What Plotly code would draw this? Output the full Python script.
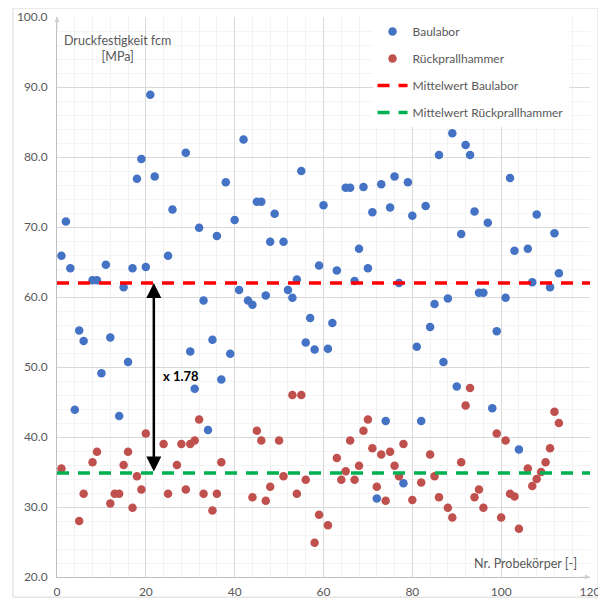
import plotly.graph_objects as go

# ---- data ----
baulabor_x = [1,2,3,4,5,6,8,9,10,11,12,14,15,16,17,18,19,20,21,22,25,26,29,30,31,32,33,34,35,36,37,38,39,40,41,42,43,44,45,46,47,48,49,
              51,52,53,54,55,56,57,58,59,60,61,62,63,65,66,67,68,69,70,71,72,73,74,75,76,77,78,79,80,81,82,83,84,85,86,87,88,89,90,
              91,92,93,94,95,96,97,98,99,101,102,103,104,106,107,108,111,112,113]
baulabor_y = [65.9,70.8,64.1,43.9,55.2,53.7,62.4,62.4,49.1,64.6,54.2,43.0,61.4,50.7,64.1,76.9,79.7,64.3,88.9,77.2,65.9,72.5,
              80.6,52.2,46.9,69.9,59.5,41.0,53.9,68.7,48.2,76.4,51.9,71.0,61.0,82.5,59.5,58.9,73.6,73.6,60.2,67.9,71.9,
              67.9,61.0,59.9,62.5,78.0,53.5,57.0,52.5,64.5,73.1,52.6,56.3,63.8,
              75.6,75.6,62.3,66.9,75.7,64.1,72.1,31.2,76.1,42.3,72.8,77.2,62.0,33.4,76.4,71.6,52.9,42.3,73.0,55.7,59.0,80.3,
              50.7,59.8,83.4,47.2,69.0,81.7,80.3,72.2,60.6,60.6,70.6,44.1,55.1,
              59.9,77.0,66.6,38.2,66.9,62.1,71.8,61.4,69.1,63.4]

rueck_x = [1,5,6,8,9,12,13,14,15,16,17,18,19,20,24,25,27,28,29,30,31,32,33,35,36,37,44,45,46,47,48,50,51,53,54,55,56,58,59,61,
           63,64,65,66,67,68,69,70,71,72,73,74,75,76,77,78,80,82,84,85,86,88,89,91,92,93,94,95,96,99,100,101,102,103,104,
           106,107,108,109,110,111,112,113]
rueck_y = [35.5,28.0,31.9,36.4,37.9,30.5,31.9,31.9,36.0,37.9,29.9,34.4,32.5,40.5,39.0,31.9,36.0,39.0,32.5,39.0,39.5,42.5,31.9,
           29.5,31.9,36.4,31.4,40.9,39.5,30.9,32.9,39.5,34.4,46.0,31.9,46.0,33.9,24.9,28.9,27.4,
           37.0,33.9,35.1,39.5,33.9,35.9,40.9,42.5,38.4,32.9,37.5,30.9,37.9,35.9,34.4,39.0,31.0,33.5,37.5,34.4,31.4,29.9,28.5,
           36.4,44.5,47.0,31.4,32.5,29.9,40.5,28.5,39.5,31.9,31.5,26.9,35.5,33.0,34.0,35.0,36.4,38.4,43.6,42.0]

mean_x_range = [0, 120]
mean_baulabor = 62.0
mean_rueck = 34.85
ratio_label = "x 1.78"

x_ticks = [0, 20, 40, 60, 80, 100, 120]
y_ticks = [20, 30, 40, 50, 60, 70, 80, 90, 100]

FONT = "Lato, 'Open Sans', sans-serif"
GRAY_TXT = "#595959"
BLUE = "#4472C4"
RED = "#C0504D"

fig = go.Figure()
fig.add_trace(go.Scatter(x=baulabor_x, y=baulabor_y, mode="markers", name="Baulabor",
                         legendgroup="a", marker=dict(color=BLUE, size=8.5)))
fig.add_trace(go.Scatter(x=rueck_x, y=rueck_y, mode="markers", name="Rückprallhammer",
                         legendgroup="b", marker=dict(color=RED, size=8.5)))
fig.add_trace(go.Scatter(x=mean_x_range, y=[mean_baulabor]*2, mode="lines", name="Mittelwert Baulabor",
                         legendgroup="c", line=dict(color="#FF0000", width=3.5, dash="12px,9px")))
fig.add_trace(go.Scatter(x=mean_x_range, y=[mean_rueck]*2, mode="lines", name="Mittelwert Rückprallhammer",
                         legendgroup="d", line=dict(color="#00B050", width=3.5, dash="12px,9px")))

# ratio arrow
fig.add_annotation(x=21.8, y=mean_baulabor, ax=21.8, ay=mean_rueck, xref="x", yref="y", axref="x", ayref="y",
                   text="", showarrow=True, arrowhead=2, arrowsize=1.2, arrowwidth=2.5, arrowcolor="black",
                   arrowside="end+start", startarrowhead=2, startarrowsize=1.2)
fig.add_annotation(x=23.5, y=48.7, xref="x", yref="y", text="<b>" + ratio_label + "</b>", showarrow=False,
                   xanchor="left", yanchor="middle", font=dict(family=FONT, size=13, color="black"))

# axis titles
fig.add_annotation(x=13.7, y=95.5, xref="x", yref="y", text="Druckfestigkeit fcm<br>[MPa]", showarrow=False,
                   xanchor="center", yanchor="middle", align="center",
                   font=dict(family=FONT, size=12.5, color=GRAY_TXT))
fig.add_annotation(x=117.5, y=22, xref="x", yref="y", text="Nr. Probekörper [-]", showarrow=False,
                   xanchor="right", yanchor="middle", font=dict(family=FONT, size=12.5, color=GRAY_TXT))

# axis arrow heads
fig.add_annotation(x=0, y=100, ax=0, ay=98, xref="x", yref="y", axref="x", ayref="y", text="", showarrow=True,
                   arrowhead=2, arrowsize=1, arrowwidth=1, arrowcolor="#d0d0d0")
fig.add_annotation(x=120, y=20, ax=118, ay=20, xref="x", yref="y", axref="x", ayref="y", text="", showarrow=True,
                   arrowhead=2, arrowsize=1, arrowwidth=1, arrowcolor="#d0d0d0")

# outer chart frame
fig.add_shape(type="rect", xref="paper", yref="paper", x0=-0.0826, x1=1.015, y0=-0.036, y1=1.016,
              line=dict(color="#d9d9d9", width=1), fillcolor="rgba(0,0,0,0)", layer="below")

fig.update_xaxes(range=[0, 120], tickvals=x_ticks, ticktext=[str(v) for v in x_ticks],
                 showgrid=True, gridcolor="#d9d9d9", gridwidth=1,
                 minor=dict(dtick=4, showgrid=True, gridcolor="#f2f2f2"),
                 showline=True, linecolor="#bfbfbf", zeroline=False, ticks="",
                 tickfont=dict(family=FONT, size=12, color=GRAY_TXT), ticklabelstandoff=4)
fig.update_yaxes(range=[20, 100], tickvals=y_ticks, ticktext=[f"{v:.1f}" for v in y_ticks],
                 showgrid=True, gridcolor="#d9d9d9", gridwidth=1,
                 minor=dict(dtick=2, showgrid=True, gridcolor="#f4f4f4"),
                 showline=True, linecolor="#bfbfbf", zeroline=False, ticks="",
                 tickfont=dict(family=FONT, size=12, color=GRAY_TXT), ticklabelstandoff=6)

fig.update_layout(
    width=598, height=590,
    margin=dict(l=49, r=16, t=9, b=21, autoexpand=False),
    paper_bgcolor="white", plot_bgcolor="white",
    showlegend=True,
    legend=dict(x=0.592, y=1.0, xanchor="left", yanchor="top", bgcolor="white",
                font=dict(family=FONT, size=12, color=GRAY_TXT), tracegroupgap=8),
    font=dict(family=FONT),
)

fig.write_html("out.html")
